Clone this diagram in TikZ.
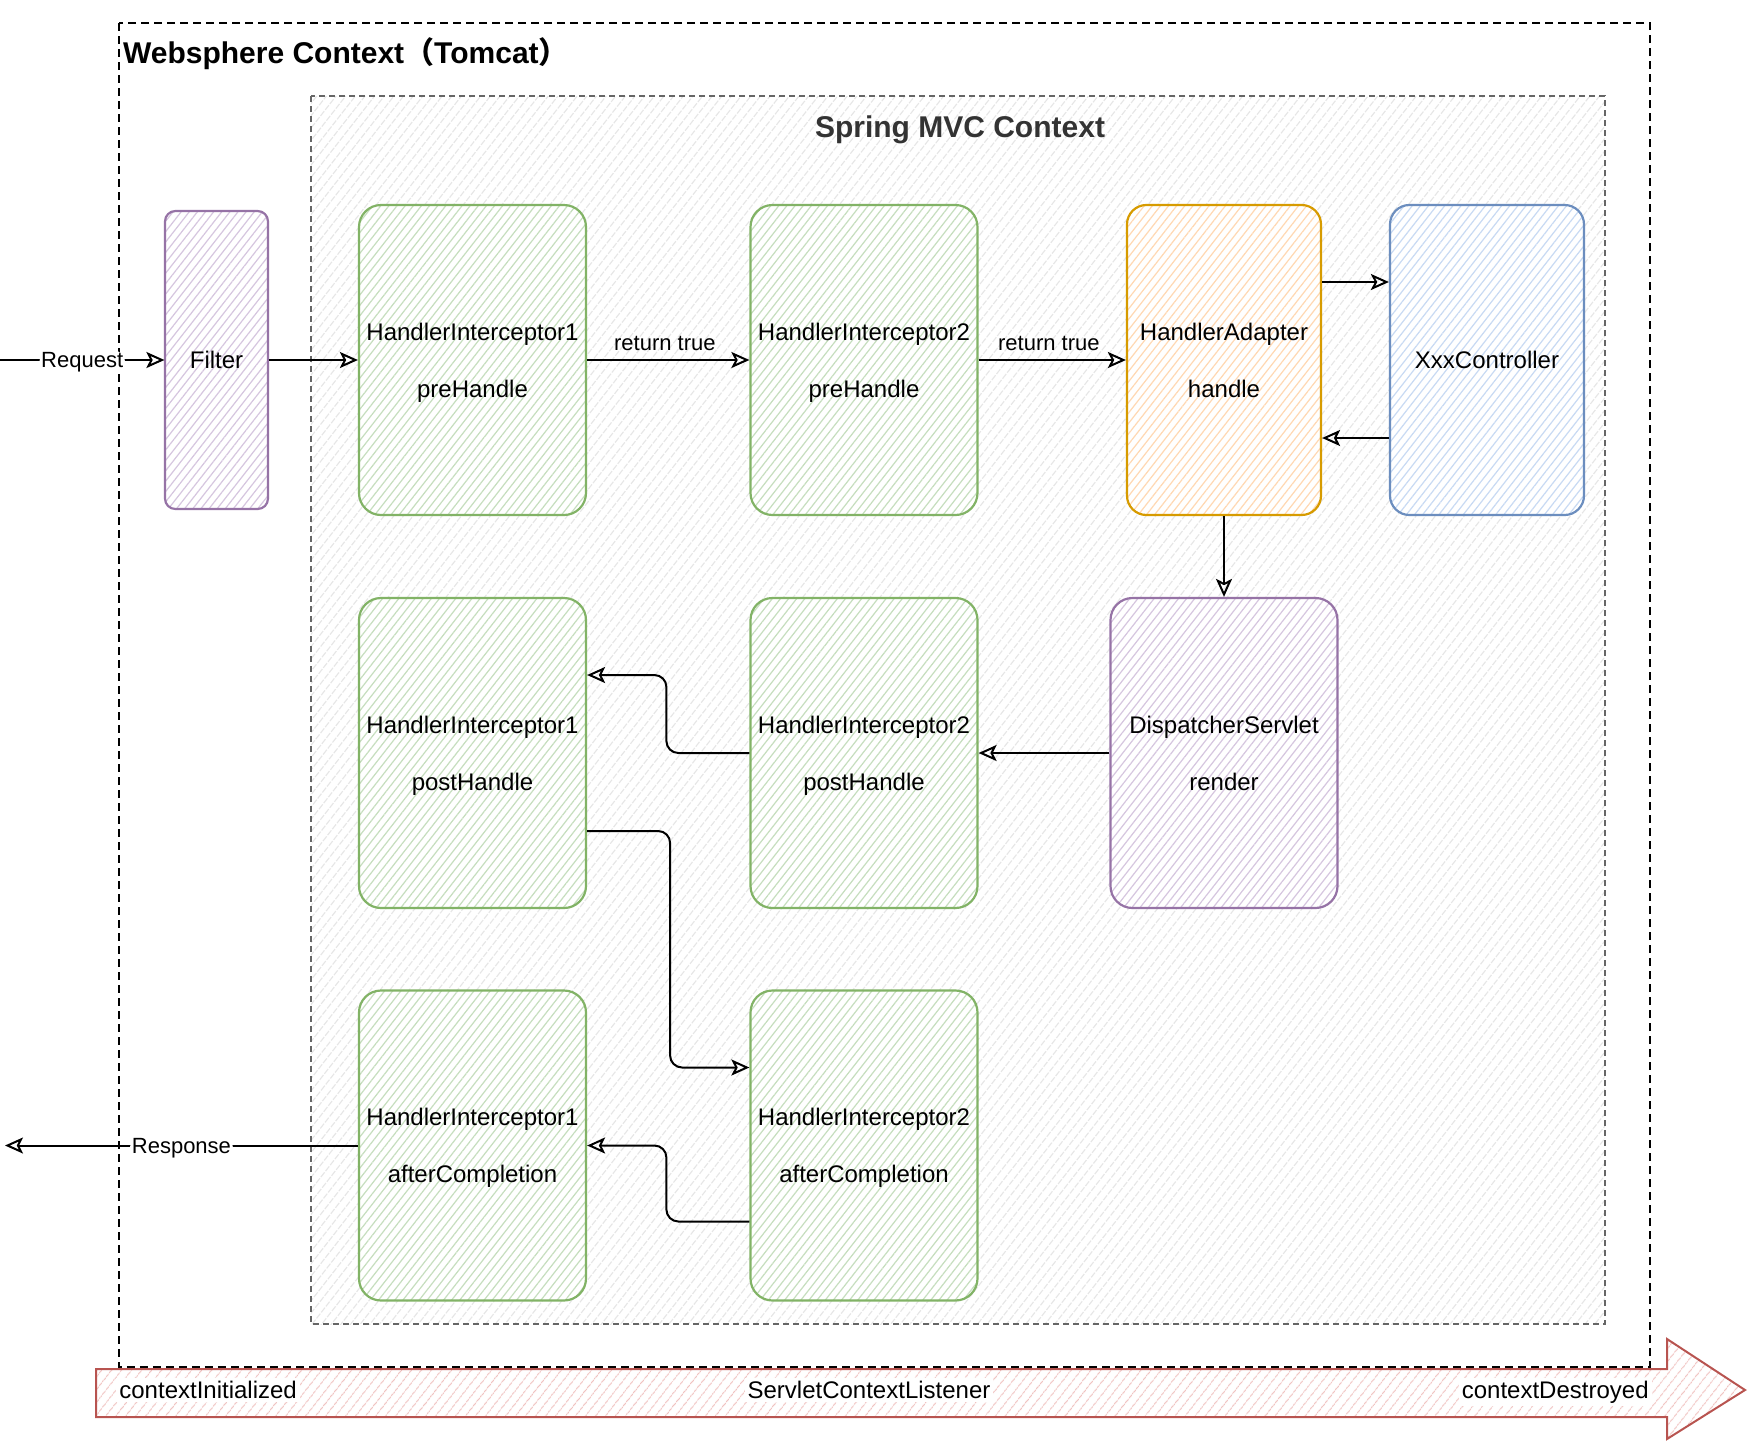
\documentclass[tikz,border=0pt]{standalone}
\usepackage{fontspec}
\setmainfont{Liberation Sans}
\newfontfamily\cjk{Noto Sans CJK SC}
\usetikzlibrary{arrows.meta,patterns.meta,calc}
\definecolor{grnD}{HTML}{82B366}
\definecolor{grnL}{HTML}{C6DEBE}
\definecolor{purD}{HTML}{9673A6}
\definecolor{purL}{HTML}{D6C6DF}
\definecolor{orgD}{HTML}{D79B00}
\definecolor{orgL}{HTML}{FFD8B2}
\definecolor{bluD}{HTML}{6C8EBF}
\definecolor{bluL}{HTML}{C8DAF3}
\definecolor{redD}{HTML}{B85450}
\definecolor{redL}{HTML}{F0C2C0}
\definecolor{sprD}{HTML}{666666}
\definecolor{sprL}{HTML}{E6E6E6}
\definecolor{txtD}{HTML}{333333}
\newcommand\twol[2]{\rule{0pt}{11.1pt}#1\vphantom{p}\\#2\vphantom{p}}
\tikzset{
  hatch/.style={pattern={Lines[angle=52,distance=3.2pt,line width=0.6pt]}, pattern color=#1},
  box/.style={line width=1.1pt, rounded corners=11pt, minimum width=113.5pt, minimum height=155pt,
    align=center, inner sep=0pt, font=\fontsize{12}{28.5}\selectfont, preaction={fill=white}},
  greenbox/.style={box, draw=grnD, hatch=grnL},
  purplebox/.style={box, draw=purD, hatch=purL},
  orangebox/.style={box, draw=orgD, hatch=orgL, minimum width=97pt, rounded corners=9.7pt},
  bluebox/.style={box, draw=bluD, hatch=bluL, minimum width=97pt, rounded corners=9.7pt},
  arr/.style={draw=black, line width=1pt, rounded corners=6pt,
    -{Stealth[open, length=9pt, width=8pt, inset=2pt]}},
  lbl/.style={font=\fontsize{11}{13}\selectfont, inner sep=1pt},
  blbl/.style={font=\fontsize{12}{14}\selectfont, inner sep=1.5pt, fill=white},
}
\begin{document}
\begin{tikzpicture}[x=0.5pt,y=-0.5pt]
\useasboundingbox (0,0) rectangle (1752,1452);
% outer websphere context
\draw[line width=1pt, dash pattern=on 4pt off 2.5pt] (119,23) rectangle (1650,1367);
\node[anchor=west, font=\fontsize{15}{18}\selectfont\bfseries] (wtitle) at (116,54)
  {Websphere Context{\cjk （}Tomcat{\cjk ）}};
% spring mvc context
\path[draw=sprD, line width=1pt, dash pattern=on 3pt off 2pt, preaction={fill=white},
  pattern={Lines[angle=52,distance=3.8pt,line width=0.55pt]}, pattern color=sprL]
  (311,96) rectangle (1605,1324);
\node[font=\fontsize{15}{18}\selectfont\bfseries, text=txtD] (stitle) at (960,130) {Spring MVC Context};
% boxes
\node[purplebox, minimum width=51.5pt, minimum height=149pt, rounded corners=5.2pt] (filter) at (216.5,360) {Filter};
\node[greenbox] (h1pre) at (472.5,360) {\twol{HandlerInterceptor1}{preHandle}};
\node[greenbox] (h2pre) at (864,360) {\twol{HandlerInterceptor2}{preHandle}};
\node[orangebox] (ha) at (1224,360) {\twol{HandlerAdapter}{handle}};
\node[bluebox] (xc) at (1487,360) {XxxController};
\node[greenbox] (h1post) at (472.5,753) {\twol{HandlerInterceptor1}{postHandle}};
\node[greenbox] (h2post) at (864,753) {\twol{HandlerInterceptor2}{postHandle}};
\node[purplebox] (ds) at (1224,753) {\twol{DispatcherServlet}{render}};
\node[greenbox] (h1after) at (472.5,1145.5) {\twol{HandlerInterceptor1}{afterCompletion}};
\node[greenbox] (h2after) at (864,1145.5) {\twol{HandlerInterceptor2}{afterCompletion}};
% free ends
\coordinate (req) at (0,360);
\coordinate (resp) at (5,1145.5);
% connectors
\draw[arr] (req) -- node[lbl, fill=white, yshift=-1.1pt] (reqlbl) {Request} (filter.west);
\draw[arr] (filter.east) -- (h1pre.west);
\draw[arr] (h1pre.east) -- node[lbl, above=3pt, xshift=-1.7pt] (rt1) {return true} (h2pre.west);
\draw[arr] (h2pre.east) -- node[lbl, above=3pt, xshift=-1.7pt] (rt2) {return true} (ha.west);
\draw[arr] ([yshift=39pt]ha.east) -- ([yshift=39pt]xc.west);
\draw[arr] ([yshift=-39pt]xc.west) -- ([yshift=-39pt]ha.east);
\draw[arr] (ha.south) -- (ds.north);
\draw[arr] (ds.west) -- (h2post.east);
\draw[arr] (h2post.west) -- ++(-41.5pt,0) |- ([yshift=39pt]h1post.east);
\draw[arr] ([yshift=-39pt]h1post.east) -- ++(41.5pt,0) |- ([yshift=39pt]h2after.west);
\draw[arr] ([yshift=-38pt]h2after.west) -- ++(-41.5pt,0) |- (h1after.east);
\draw[arr] (h1after.west) -- node[lbl, fill=white, yshift=-1.1pt] (resplbl) {Response} (resp);
% servlet context listener arrow
\path[draw=redD, line width=1pt, preaction={fill=white},
  pattern={Lines[angle=52,distance=4pt,line width=0.55pt]}, pattern color=redL]
  (96,1369) -- (1667,1369) -- (1667,1339) -- (1745,1390) -- (1667,1439) -- (1667,1417) -- (96,1417) -- cycle;
\node[blbl, anchor=base west] (ci) at (116,1398.5) {contextInitialized};
\node[blbl, anchor=base] (scl) at (869,1398.5) {ServletContextListener};
\node[blbl, anchor=base east] (cd) at (1652,1398.5) {contextDestroyed};
\end{tikzpicture}
\end{document}
